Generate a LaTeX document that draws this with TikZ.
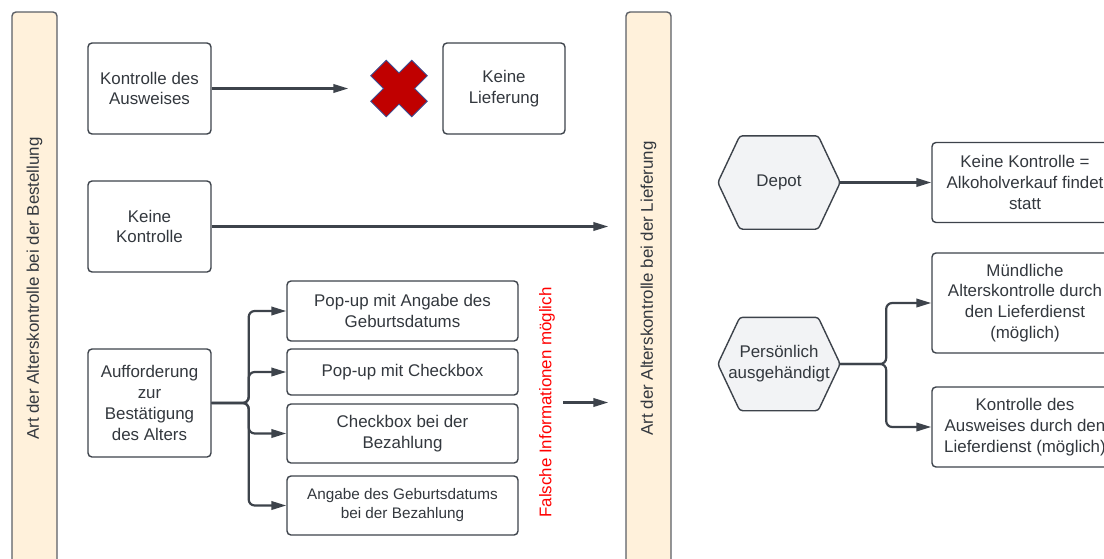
\documentclass[tikz,border=0pt]{standalone}
\usepackage{fontspec}
\setmainfont{Liberation Sans}
\usetikzlibrary{arrows.meta,backgrounds}

\definecolor{linegray}{HTML}{3D434B}
\definecolor{bargray}{HTML}{5B5F66}
\definecolor{barfill}{HTML}{FFF1DB}
\definecolor{hexfill}{HTML}{F2F3F5}
\definecolor{crossred}{HTML}{C00000}
\definecolor{crossblue}{HTML}{3A4F95}
\definecolor{textgray}{HTML}{33383E}

\tikzset{
  box/.style={draw=linegray, line width=1.4pt, rounded corners=4pt, fill=white,
    align=center, inner sep=2pt},
  bar/.style={draw=bargray, line width=1.4pt, rounded corners=4pt, fill=barfill,
    minimum width=45pt, minimum height=553pt, inner sep=0pt},
  hexnode/.style={minimum width=122pt, minimum height=93pt, align=center, inner sep=0pt},
  hexline/.style={draw=linegray, line width=1.4pt, fill=hexfill, rounded corners=3pt},
  arr/.style={draw=linegray, line width=2.2pt, -{Triangle[length=15pt,width=8.5pt]}},
}

% hexagon round a named node
\newcommand{\hexframe}[1]{%
  \draw[hexline] (#1.west) -- ([xshift=22pt]#1.north west) -- ([xshift=-22pt]#1.north east)
    -- (#1.east) -- ([xshift=-22pt]#1.south east) -- ([xshift=22pt]#1.south west) -- cycle;}

\begin{document}
\begin{tikzpicture}[x=1pt, y=-1pt, text=textgray, font=\fontsize{16.9}{20.8}\selectfont]
  \useasboundingbox (0,0) rectangle (1104,558);
  \clip (0,0) rectangle (1104,558);

  % Bars
  \node[bar] (bestellung) at (34.5,288.5) {\rotatebox{90}{Art der Alterskontrolle bei der Bestellung}};
  \node[bar] (lieferung) at (648.5,288.5) {\rotatebox{90}{Art der Alterskontrolle bei der Lieferung}};

  % Left column
  \node[box, minimum width=123pt, minimum height=91pt] (ausweis) at (149.5,88.5) {Kontrolle des\\Ausweises};
  \node[box, minimum width=123pt, minimum height=91pt] (keine) at (149.5,226.5) {Keine\\Kontrolle};
  \node[box, minimum width=123pt, minimum height=108pt] (auf) at (149.5,403) {Aufforderung\\zur\\Bestätigung\\des Alters};

  % No delivery
  \node[minimum size=57pt, inner sep=0pt] (cross) at (399,88.5) {};
  \filldraw[fill=crossred, draw=crossblue, line width=0.8pt, shift={(cross.center)}, rotate=45]
    (11,11) -- (29,11) -- (29,-11) -- (11,-11) -- (11,-29) -- (-11,-29) -- (-11,-11)
    -- (-29,-11) -- (-29,11) -- (-11,11) -- (-11,29) -- (11,29) -- cycle;
  \node[box, minimum width=122pt, minimum height=91pt] (nolief) at (504,88.5) {Keine\\Lieferung};
  \draw[arr] (ausweis.east) -- ([xshift=-22pt]cross.west);

  % Confirmation variants
  \node[box, minimum width=231pt, minimum height=60pt] (popup) at (402.5,311) {Pop-up mit Angabe des\\Geburtsdatums};
  \node[box, minimum width=231pt, minimum height=46pt] (popcheck) at (402.5,372) {Pop-up mit Checkbox};
  \node[box, minimum width=231pt, minimum height=59pt] (checkbez) at (402.5,433.5) {Checkbox bei der\\Bezahlung};
  \node[box, minimum width=231pt, minimum height=59pt, font=\fontsize{15.3}{19}\selectfont] (angabe) at (402.5,505.5) {Angabe des Geburtsdatums\\bei der Bezahlung};
  \foreach \target in {popup,popcheck,checkbez,angabe}
    \draw[arr, rounded corners=6pt] (auf.east) -- ++(37,0) |- (\target.west);

  \node[text=red, inner sep=2pt] (falsch) at (547,402.5) {\rotatebox{90}{Falsche Informationen möglich}};

  % Into delivery
  \draw[arr] (keine.east) -- ([xshift=-17pt]lieferung.west |- keine.east);
  \draw[arr] ([xshift=6pt]falsch.east) -- ([xshift=-17pt]lieferung.west |- falsch.east);

  % Right side
  \node[hexnode] (depot) at (779,182.5) {Depot};
  \node[hexnode] (persoenlich) at (779,364) {Persönlich\\ausgehändigt};
  \begin{scope}[on background layer]
    \hexframe{depot}
    \hexframe{persoenlich}
  \end{scope}

  \node[box, minimum width=186pt, minimum height=80pt] (erlaubt) at (1025,182.5) {Keine Kontrolle =\\Alkoholverkauf findet\\statt};
  \node[box, minimum width=186pt, minimum height=100pt] (muendlich) at (1025,303) {Mündliche\\Alterskontrolle durch\\den Lieferdienst\\(möglich)};
  \node[box, minimum width=186pt, minimum height=80pt] (liefausweis) at (1025,427) {Kontrolle des\\Ausweises durch den\\Lieferdienst (möglich)};

  \draw[arr] (depot.east) -- (depot.east -| erlaubt.west);
  \foreach \target in {muendlich,liefausweis}
    \draw[arr, rounded corners=6pt] (persoenlich.east) -- ++(46,0) |- (\target.west);
\end{tikzpicture}
\end{document}
